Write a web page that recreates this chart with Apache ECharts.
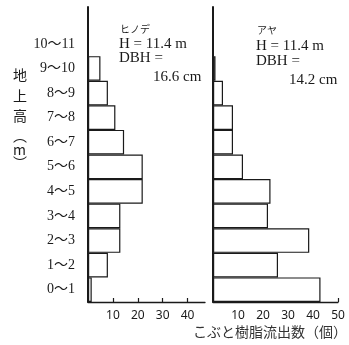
<!DOCTYPE html>
<html>
<head>
<meta charset="utf-8">
<script src="https://cdn.jsdelivr.net/npm/echarts@6/dist/echarts.min.js"></script>
<style>
  html, body { margin: 0; padding: 0; background: #fff; }
  #chart { width: 349px; height: 345px; }
</style>
</head>
<body>
<div id="chart"></div>
<script>
// 地上高の区分（下から上）。最上段の '' は軸の上の余白
const heightClasses = ['0〜1', '1〜2', '2〜3', '3〜4', '4〜5', '5〜6', '6〜7', '7〜8', '8〜9', '9〜10', '10〜11', ''];
// ヒノデ：こぶと樹脂流出数
const hinodeCounts = [1.5, 8, 13, 13, 22, 22, 14.5, 11, 8, 5, 0];
// アヤ：こぶと樹脂流出数
const ayaCounts = [43, 26, 38.5, 22, 23, 12, 8, 8, 4, 1, 0];
// x軸の目盛り
const hinodeTicks = [10, 20, 30, 40];
const ayaTicks = [10, 20, 30, 40, 50];

const serif = "'Liberation Serif', 'Noto Sans CJK JP', serif";
const cjk = "'Noto Sans CJK JP', sans-serif";
const ink = '#1a1a1a';

const chart = echarts.init(document.getElementById('chart'), null, { renderer: 'canvas' });

// y軸（カテゴリ）の共通設定
function yAxis(gridIndex, showLabel) {
  return {
    type: 'category',
    gridIndex: gridIndex,
    data: heightClasses,
    boundaryGap: true,
    axisLine: { lineStyle: { color: ink, width: 2 } },
    axisTick: {
      alignWithLabel: true,
      length: 4,
      interval: (i, v) => v !== '',
      lineStyle: { color: ink, width: 1.2 }
    },
    axisLabel: {
      show: showLabel,
      interval: 0,
      margin: 13,
      color: ink,
      fontSize: 14,
      fontFamily: serif
    },
    splitLine: { show: false }
  };
}

// x軸（数値）の共通設定
function xAxis(gridIndex, max, ticks) {
  return {
    type: 'value',
    gridIndex: gridIndex,
    min: 0,
    max: max,
    axisLine: { show: true, lineStyle: { color: ink, width: 1.3 } },
    axisTick: {
      show: true,
      inside: true,
      length: 4,
      customValues: ticks,
      lineStyle: { color: ink, width: 1.2 }
    },
    axisLabel: {
      customValues: ticks,
      margin: 8,
      color: ink,
      fontSize: 12,
      fontFamily: "'Noto Sans', sans-serif"
    },
    splitLine: { show: false }
  };
}

function barSeries(idx, data) {
  return {
    type: 'bar',
    xAxisIndex: idx,
    yAxisIndex: idx,
    data: data,
    barCategoryGap: '0%',
    itemStyle: { color: '#fff', borderColor: ink, borderWidth: 1.2 },
    silent: true
  };
}

// 注記テキスト
function note(x, y, text, opts) {
  return {
    type: 'text',
    left: x,
    top: y,
    style: Object.assign({
      text: text,
      fill: ink,
      font: '15px ' + serif
    }, opts || {})
  };
}

// 縦書きの y 軸名
const yTitleChars = ['地', '上', '高', '︵', 'm', '︶'];
const yTitleY = [68, 89, 109, 129, 143, 156];

const option = {
  backgroundColor: '#fff',
  animation: false,
  grid: [
    { left: 88, right: 144, top: 7, bottom: 43 },
    { left: 213, right: 11, top: 7, bottom: 43 }
  ],
  xAxis: [xAxis(0, 47, hinodeTicks), xAxis(1, 50, ayaTicks)],
  yAxis: [yAxis(0, true), yAxis(1, false)],
  series: [barSeries(0, hinodeCounts), barSeries(1, ayaCounts)],
  graphic: [
    note(120, 24, 'ヒノデ', { font: '10px ' + cjk }),
    note(119, 37, 'H = 11.4 m'),
    note(119, 51, 'DBH ='),
    note(153, 70, '16.6 cm'),
    note(257, 25, 'アヤ', { font: '10px ' + cjk }),
    note(256, 39, 'H = 11.4 m'),
    note(256, 54, 'DBH ='),
    note(289, 73, '14.2 cm'),
    {
      type: 'text',
      left: 193,
      top: 325,
      style: { text: 'こぶと樹脂流出数（個）', fill: '#333', font: '14px ' + cjk }
    }
  ].concat(yTitleChars.map((c, i) => ({
    type: 'text',
    left: 13,
    top: yTitleY[i],
    style: { text: c, fill: ink, font: '14px ' + cjk }
  })))
};

chart.setOption(option);
</script>
</body>
</html>
